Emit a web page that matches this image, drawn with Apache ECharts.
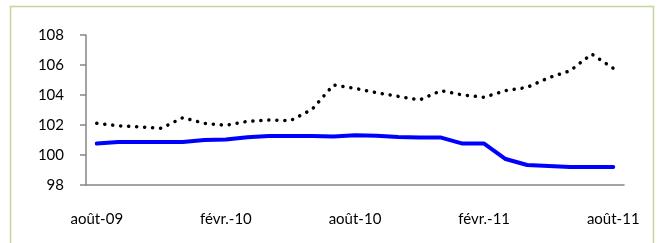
<!DOCTYPE html>
<html><head><meta charset="utf-8">
<script src="https://cdn.jsdelivr.net/npm/echarts@6/dist/echarts.min.js"></script>
<style>html,body{margin:0;padding:0;background:#fff}#c{width:659px;height:243px}</style>
</head><body><div id="c"></div>
<script>
const categories = ['août-09','sept.-09','oct.-09','nov.-09','déc.-09','janv.-10','févr.-10','mars-10','avr.-10','mai-10','juin-10','juil.-10','août-10','sept.-10','oct.-10','nov.-10','déc.-10','janv.-11','févr.-11','mars-11','avr.-11','mai-11','juin-11','juil.-11','août-11'];
const dottedSeries = [102.11,101.95,101.87,101.78,102.49,102.11,101.98,102.24,102.33,102.29,103.04,104.67,104.44,104.15,103.91,103.67,104.29,104.0,103.85,104.29,104.51,105.15,105.62,106.73,105.78];
const blueSeries = [100.76,100.87,100.87,100.87,100.87,101.0,101.04,101.18,101.27,101.27,101.27,101.24,101.31,101.29,101.2,101.16,101.16,100.76,100.76,99.73,99.33,99.27,99.2,99.2,99.2];
const yTicks = {min:98, max:108, interval:2};

const chart = echarts.init(document.getElementById('c'));
const font = 'Lato, "Liberation Sans", sans-serif';
chart.setOption({
  animation:false,
  graphic:[{type:'rect',shape:{x:10.5,y:6.5,width:643,height:245},style:{fill:null,stroke:'#c3d69b',lineWidth:1.5},silent:true}],
  grid:{left:86,right:35,top:35,bottom:58,containLabel:false},
  xAxis:{type:'category',data:categories,boundaryGap:true,
    axisLine:{lineStyle:{color:'#868686',width:1.5}},
    axisTick:{interval:5,length:5,lineStyle:{color:'#868686',width:1.5}},
    axisLabel:{interval:5,color:'#000',fontFamily:font,fontSize:15,margin:27},
    splitLine:{show:false}},
  yAxis:{type:'value',min:yTicks.min,max:yTicks.max,interval:yTicks.interval,
    axisLine:{show:true,lineStyle:{color:'#868686',width:1.5}},
    axisTick:{show:true,length:6,lineStyle:{color:'#868686',width:1.5}},
    axisLabel:{color:'#000',fontFamily:font,fontSize:15,margin:22},
    splitLine:{show:false}},
  series:[
    {type:'line',data:dottedSeries,symbol:'none',z:3,
      lineStyle:{color:'#000',width:3.5,type:[0.1,7.9],cap:'round'}},
    {type:'line',data:blueSeries,symbol:'none',z:2,
      lineStyle:{color:'#0000ff',width:4,cap:'round',join:'round'}}
  ]
});
</script></body></html>
